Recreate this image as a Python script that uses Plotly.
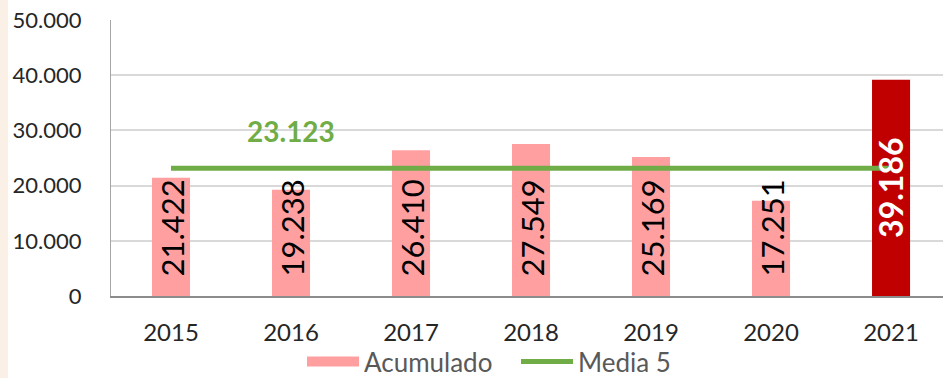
import plotly.graph_objects as go

# Yearly totals ("Acumulado") and the 5-year average line ("Media 5")
years = ["2015", "2016", "2017", "2018", "2019", "2020", "2021"]
acumulado = [21422, 19238, 26410, 27549, 25169, 17251, 39186]
media5 = [23123, 23123, 23123, 23123, 23123, 23123, 23123]
media5_label_year = "2016"
y_ticks = [0, 10000, 20000, 30000, 40000, 50000]

PINK = "#FF9F9F"
RED = "#C00000"
GREEN = "#70AD47"
FONT = "Lato"

# The current year is highlighted in dark red
bar_colors = [PINK] * (len(years) - 1) + [RED]


def fmt(v):
    return f"{int(round(v)):,}".replace(",", ".")


fig = go.Figure()

fig.add_trace(go.Bar(
    x=years, y=acumulado, name="Acumulado",
    marker=dict(color=bar_colors, line=dict(width=0)),
    width=0.317, showlegend=False, hoverinfo="x+y",
))

fig.add_trace(go.Scatter(
    x=years, y=media5, name="Media 5", mode="lines",
    line=dict(color=GREEN, width=5), showlegend=False,
))

# legend entries
fig.add_trace(go.Scatter(
    x=[None], y=[None], name="Acumulado", mode="lines",
    line=dict(color=PINK, width=17), showlegend=True,
))
fig.add_trace(go.Scatter(
    x=[None], y=[None], name="Media 5", mode="lines",
    line=dict(color=GREEN, width=5), showlegend=True,
))

annotations = []
last = len(years) - 1
for i, v in enumerate(acumulado):
    if i < last:
        annotations.append(dict(
            x=i, y=0, xref="x", yref="y", text=fmt(v), showarrow=False,
            textangle=-90, yanchor="bottom", xanchor="center", yshift=17,
            font=dict(family=FONT, size=31, color="#000000"),
        ))
    else:
        annotations.append(dict(
            x=i, y=v / 2, xref="x", yref="y", text="<b>" + fmt(v) + "</b>",
            showarrow=False, textangle=-90, yanchor="middle", xanchor="center",
            font=dict(family=FONT, size=32, color="#FFFFFF"),
        ))

k = years.index(media5_label_year)
annotations.append(dict(
    x=k, y=media5[k], xref="x", yref="y",
    text="<b>" + fmt(media5[k]) + "</b>", showarrow=False,
    yanchor="middle", xanchor="center", yshift=37,
    font=dict(family=FONT, size=28, color=GREEN),
))

fig.update_layout(
    width=943, height=378,
    margin=dict(l=111, r=0, t=20, b=82, autoexpand=False),
    paper_bgcolor="#FFFFFF", plot_bgcolor="#FFFFFF",
    separators=",.",
    font=dict(family=FONT, size=22, color="#262626"),
    annotations=annotations,
    showlegend=True,
    legend=dict(
        orientation="h", x=302 / 943, xanchor="left", xref="container",
        yref="container", y=(378 - 338) / 378, yanchor="top",
        font=dict(family=FONT, size=26, color="#595959"),
        itemwidth=52, entrywidth=147, bgcolor="rgba(0,0,0,0)",
    ),
    shapes=[dict(
        type="rect", xref="paper", yref="paper",
        x0=-111 / 832, x1=-103 / 832, y0=-0.5, y1=1.2,
        fillcolor="#FBF0E6", line=dict(width=0), layer="below",
    )],
)

fig.update_xaxes(
    type="category", range=[-0.5, 6.433],
    showgrid=False, showline=True, linecolor="#8C8C8C", linewidth=1.5,
    ticks="", ticklabelstandoff=14,
    tickfont=dict(family=FONT, size=24, color="#262626"),
)
fig.update_yaxes(
    range=[0, 50000], tickvals=y_ticks, tickformat=",d",
    showgrid=True, gridcolor="#D9D9D9", gridwidth=1.5,
    showline=True, linecolor="#A6A6A6", linewidth=1,
    zeroline=False, ticks="", ticklabelstandoff=24,
    tickfont=dict(family=FONT, size=22, color="#262626"),
)

fig.write_html("out.html")
